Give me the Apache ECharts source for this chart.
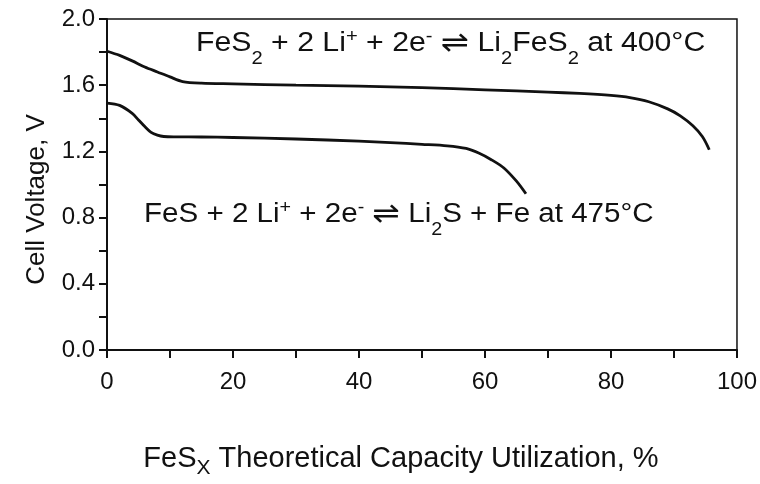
<!DOCTYPE html>
<html>
<head>
<meta charset="utf-8">
<script src="https://cdn.jsdelivr.net/npm/echarts@6/dist/echarts.min.js"></script>
<style>
html,body{margin:0;padding:0;background:#fff;}
#chart{width:760px;height:484px;}
</style>
</head>
<body>
<div id="chart"></div>
<script>
// FeS2 + 2Li+ + 2e- <-> Li2FeS2 at 400 C
const capFeS2 = [0, 2, 4, 6, 8, 10, 12, 15, 20, 30, 40, 50, 60, 70, 75, 80, 83, 86, 89, 91, 93, 94.5, 95.6];
const voltFeS2 = [1.805, 1.78, 1.747, 1.71, 1.68, 1.65, 1.622, 1.612, 1.608, 1.60, 1.594, 1.585, 1.572, 1.558, 1.55, 1.538, 1.525, 1.50, 1.457, 1.415, 1.355, 1.29, 1.21];
// FeS + 2Li+ + 2e- <-> Li2S + Fe at 475 C
const capFeS = [0, 2, 4, 5, 6, 7, 8, 9, 11, 15, 20, 30, 40, 45, 50, 54, 57, 59, 61, 63, 65, 66.5];
const voltFeS = [1.492, 1.478, 1.43, 1.39, 1.35, 1.315, 1.298, 1.29, 1.288, 1.287, 1.284, 1.275, 1.262, 1.253, 1.243, 1.234, 1.218, 1.19, 1.15, 1.10, 1.02, 0.944];
const xTickLabels = ['0', '20', '40', '60', '80', '100'];
const yTickLabels = ['0.0', '0.4', '0.8', '1.2', '1.6', '2.0'];

const FONT = "'Liberation Sans', Arial, Helvetica, sans-serif";
const chart = echarts.init(document.getElementById('chart'), null, {renderer: 'canvas'});

function annotRich(sz) {
  return {
    m: {fontSize: sz, fontFamily: FONT, fill: '#111'},
    sub: {fontSize: 18, fontFamily: FONT, fill: '#111', padding: [30, 0, 0, 0]},
    sup: {fontSize: 18, fontFamily: FONT, fill: '#111', padding: [0, 0, 14, 0]},
    arr: {fontSize: 30, fontFamily: "'DejaVu Sans', sans-serif", fill: '#111'}
  };
}

const option = {
  backgroundColor: '#fff',
  animation: false,
  grid: {left: 107, top: 19, right: 23, bottom: 133, show: true, borderColor: '#111', borderWidth: 1.5},
  xAxis: {
    type: 'value', min: 0, max: 100, interval: 10,
    axisLine: {show: true, onZero: false, lineStyle: {color: '#111', width: 2}},
    axisTick: {show: true, inside: false, length: 8, lineStyle: {color: '#111', width: 2}},
    splitLine: {show: false},
    axisLabel: {
      margin: 20, color: '#111', fontSize: 24, fontFamily: FONT,
      formatter: v => (Math.round(v) % 20 === 0 ? xTickLabels[Math.round(v) / 20] : '')
    },
    name: '{m|FeS}{sub|X}{m| Theoretical Capacity Utilization, %}',
    nameLocation: 'middle', nameGap: 88,
    nameTextStyle: {
      padding: [0, 42, 0, 0],
      rich: {
        m: {fontSize: 29, fontFamily: FONT, color: '#111'},
        sub: {fontSize: 21, fontFamily: FONT, color: '#111', padding: [20, 0, 0, 0]}
      }
    }
  },
  yAxis: {
    type: 'value', min: 0, max: 2, interval: 0.2,
    axisLine: {show: true, lineStyle: {color: '#111', width: 2}},
    axisTick: {show: true, inside: false, length: 8, lineStyle: {color: '#111', width: 2}},
    splitLine: {show: false},
    axisLabel: {
      margin: 12, color: '#111', fontSize: 24, fontFamily: FONT,
      formatter: v => { const k = Math.round(v * 10); return k % 4 === 0 ? yTickLabels[k / 4] : ''; }
    },
    name: 'Cell Voltage, V',
    nameLocation: 'middle', nameGap: 57,
    nameTextStyle: {color: '#111', fontSize: 26, fontFamily: FONT, padding: [0, 30, 0, 0]}
  },
  graphic: [
    {
      type: 'text', x: 196, y: 44, scaleX: 1.12,
      style: {
        text: '{m|FeS}{sub|2}{m| + 2 Li}{sup|+}{m| + 2e}{sup|-}{m| }{arr|\u21CC}{m| Li}{sub|2}{m|FeS}{sub|2}{m| at 400°C}',
        rich: annotRich(27), fill: '#111', fontSize: 27, fontFamily: FONT,
        align: 'left', verticalAlign: 'middle', textAlign: 'left', textVerticalAlign: 'middle'
      }
    },
    {
      type: 'text', x: 144, y: 215, scaleX: 1.095,
      style: {
        text: '{m|FeS + 2 Li}{sup|+}{m| + 2e}{sup|-}{m| }{arr|\u21CC}{m| Li}{sub|2}{m|S + Fe at 475°C}',
        rich: annotRich(27), fill: '#111', fontSize: 27, fontFamily: FONT,
        align: 'left', verticalAlign: 'middle', textAlign: 'left', textVerticalAlign: 'middle'
      }
    }
  ],
  series: [
    {
      type: 'line', data: capFeS2.map((c, i) => [c, voltFeS2[i]]),
      showSymbol: false, smooth: 0.3, lineStyle: {color: '#111', width: 2.8}
    },
    {
      type: 'line', data: capFeS.map((c, i) => [c, voltFeS[i]]),
      showSymbol: false, smooth: 0.3, lineStyle: {color: '#111', width: 2.8}
    }
  ]
};
chart.setOption(option);
</script>
</body>
</html>
